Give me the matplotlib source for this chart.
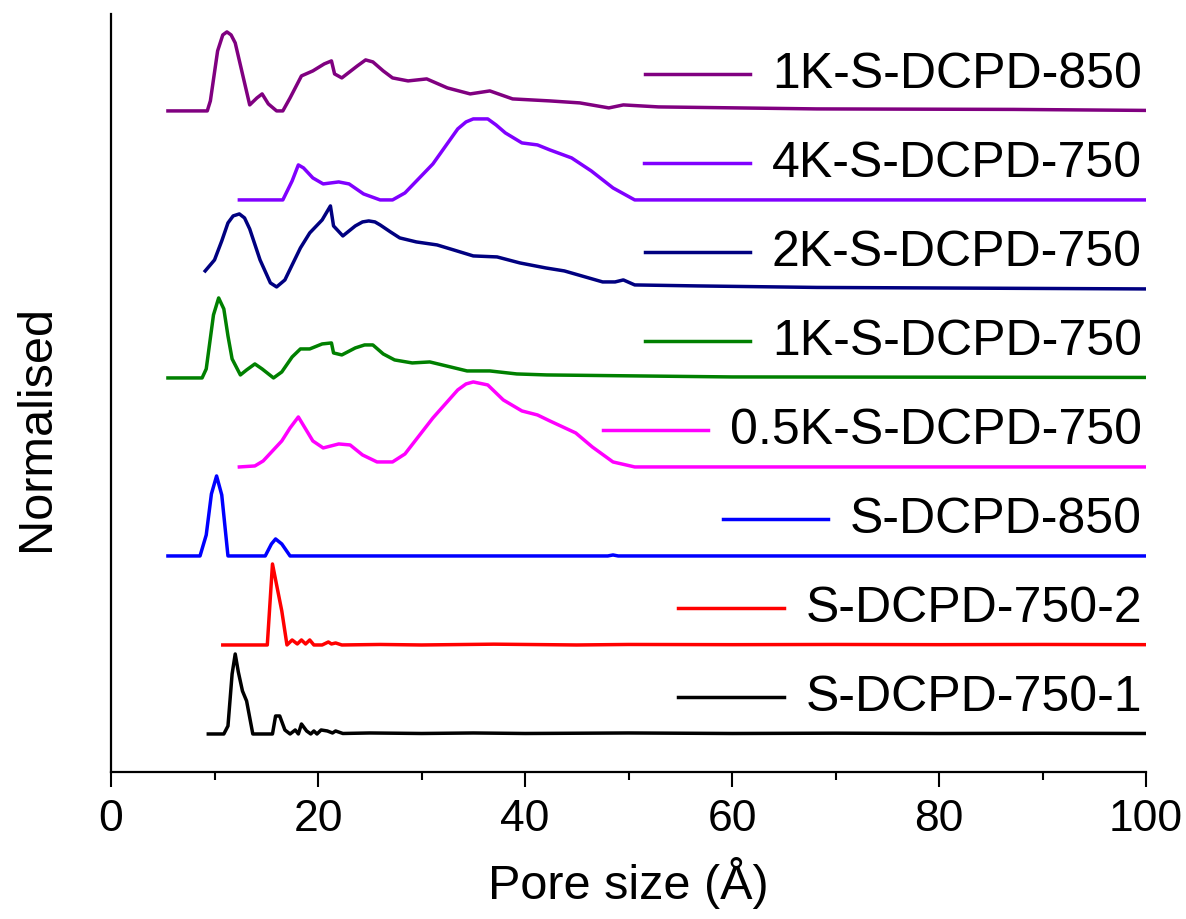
import matplotlib
matplotlib.use("Agg")
import matplotlib.pyplot as plt

plt.rcParams['font.family'] = ['Liberation Sans', 'DejaVu Sans']

# pore size (A) and normalised intensity (arbitrary units) for each sample
x_750_1 = [9.4, 10.9, 11.3, 11.7, 12.0, 12.3, 12.7, 13.1, 13.7, 15.6, 15.9, 16.3, 16.8, 17.3, 17.8, 18.1, 18.4, 18.9,
           19.3, 19.6, 19.9, 20.3, 20.9, 21.4, 21.7, 22.4, 25, 30, 35, 40, 50, 60, 70, 80, 90, 100]
y_750_1 = [0, 0, 8, 60, 80, 62, 43, 33, 0, 0, 18, 18, 4, 0, 4, 0, 10, 3,
           0, 3, 0, 4, 3, 1, 3, 0.5, 1, 0.5, 1, 0.5, 1, 0.5, 0.8, 0.5, 0.7, 0.5]

x_750_2 = [10.8, 15.1, 15.6, 16.0, 16.5, 17.0, 17.5, 18.0, 18.4, 18.8, 19.2, 19.6, 20.4, 21.0, 21.3, 21.7, 22.3,
           26, 30, 37, 40, 45, 50, 60, 70, 80, 90, 100]
y_750_2 = [0, 0, 81, 60, 34, 0, 5, 1, 5, 1, 5, 0, 0, 3, 1, 2, 0,
           0.5, 0, 0.8, 0.5, 0, 0.5, 0.3, 0.5, 0.3, 0.5, 0.3]

x_850 = [5.5, 8.6, 9.2, 9.7, 10.2, 10.7, 11.3, 14.9, 15.5, 15.9, 16.5, 17.3, 48, 48.5, 49, 100]
y_850 = [0, 0, 21, 62, 80, 61, 0, 0, 12, 17, 12, 0, 0, 1, 0, 0]

x_05k = [12.4, 13.9, 14.7, 16.5, 17.3, 18.1, 18.8, 19.5, 20.5, 22.0, 23.1, 24.3, 25.7, 27.2, 28.4, 29.6, 31.1,
         33.5, 34.3, 35.0, 36.4, 37.9, 39.7, 41.2, 42.4, 44.9, 46.5, 48.5, 50.6, 100]
y_05k = [0, 1, 6, 26, 39, 50, 38, 26, 19, 23, 22, 12, 5, 5, 13, 29, 49,
         77, 83, 85, 82, 67, 56, 52, 46, 34, 20, 5, 0, 0]

x_1k750 = [5.5, 8.8, 9.2, 9.9, 10.4, 10.9, 11.3, 11.7, 12.5, 13.1, 13.9, 14.6, 15.7, 16.5, 17.5, 18.3, 19.2,
           20.4, 21.3, 21.5, 22.3, 23.6, 24.5, 25.3, 26.3, 27.4, 29.1, 30.8, 32.8, 34.4, 36.6, 39.2, 42.1,
           51, 60, 100]
y_1k750 = [0, 0, 9, 63, 80, 69, 42, 19, 3, 8, 14, 9, 0, 6, 21, 29, 29,
           34, 35, 25, 23, 30, 33, 33, 24, 18, 15, 16, 11, 7, 7, 4, 3,
           2, 1, 0.5]

x_2k = [9.1, 10.0, 10.7, 11.3, 11.8, 12.4, 12.9, 13.4, 14.4, 15.4, 16.0, 16.8, 17.5, 18.3, 19.2, 20.4, 21.2, 21.5,
        22.4, 23.6, 24.3, 24.9, 25.5, 26.0, 27.0, 27.9, 29.5, 31.5, 33.1, 35.0, 37.3, 39.5, 42.0, 43.8, 47.5,
        48.7, 49.5, 50.6, 56.7, 68.2, 100]
y_2k = [18, 29, 48, 66, 73, 75, 71, 60, 29, 6, 2, 9, 24, 41, 56, 69, 83, 63,
        53, 63, 67, 68, 67, 64, 57, 51, 47, 44, 39, 33, 32, 26, 21, 18, 7,
        7, 9, 4, 3, 1.5, 0]

x_4k = [12.4, 16.6, 17.5, 18.1, 18.6, 19.5, 20.5, 22.0, 23.0, 24.4, 26.0, 27.2, 28.4, 31.1, 33.5, 34.3, 35.0,
        36.4, 37.2, 38.1, 39.7, 41.2, 42.4, 44.5, 46.4, 48.5, 50.6, 100]
y_4k = [0, 0, 19, 35, 32, 22, 16, 18, 16, 6, 0, 0, 7, 36, 71, 78, 81,
        81, 75, 67, 57, 55, 50, 42, 29, 12, 0, 0]

x_1k850 = [5.5, 9.3, 9.6, 10.3, 10.8, 11.2, 11.6, 12.0, 12.7, 13.4, 14.1, 14.6, 15.2, 16.0, 16.6, 17.3, 18.4, 19.5,
           20.6, 21.3, 21.6, 22.3, 23.8, 24.6, 25.3, 26.3, 27.2, 28.7, 30.5, 32.5, 34.7, 36.6, 38.8, 42.4,
           45.3, 48.1, 49.5, 52.9, 68.2, 87.2, 100]
y_1k850 = [0, 0, 10, 60, 76, 79, 76, 68, 37, 6, 13, 17, 7, 0, 0, 13, 35, 40,
           47, 50, 37, 33, 45, 51, 49, 40, 33, 30, 32, 23, 17, 20, 12, 10,
           8, 3, 6, 4, 2, 1.5, 0.5]

series = [
    (x_750_1, y_750_1, "black", "S-DCPD-750-1"),
    (x_750_2, y_750_2, "#ff0000", "S-DCPD-750-2"),
    (x_850, y_850, "#0000ff", "S-DCPD-850"),
    (x_05k, y_05k, "#ff00ff", "0.5K-S-DCPD-750"),
    (x_1k750, y_1k750, "#008000", "1K-S-DCPD-750"),
    (x_2k, y_2k, "#000080", "2K-S-DCPD-750"),
    (x_4k, y_4k, "#8000ff", "4K-S-DCPD-750"),
    (x_1k850, y_1k850, "#800080", "1K-S-DCPD-850"),
]

fig = plt.figure(figsize=(11.86, 9.2), dpi=100)
ax = fig.add_axes([0.0936, 0.1598, 0.8727, 0.824])

step = 89
base = 38
for i, (xs, ys, c, lab) in enumerate(series):
    off = base + i * step
    ax.plot(xs, [v + off for v in ys], color=c, lw=2.5, solid_joinstyle='round')

ax.set_xlim(0, 100)
ax.set_ylim(0, 758)

ax.spines['top'].set_visible(False)
ax.spines['right'].set_visible(False)
ax.spines['left'].set_linewidth(1.6)
ax.spines['bottom'].set_linewidth(1.6)
ax.set_yticks([])
ax.set_xticks(range(0, 101, 20))
ax.set_xticks(range(10, 100, 20), minor=True)
ax.tick_params(axis='x', which='major', direction='out', length=11, width=1.5, labelsize=32, pad=8)
ax.tick_params(axis='x', which='minor', direction='out', length=6, width=1.5)

ax.set_xlabel("Pore size (Å)", fontsize=35, labelpad=12)
ax.set_ylabel("Normalised", fontsize=35)
ax.yaxis.set_label_coords(-0.05, 0.455)

# legend: right-aligned labels with a short line in front of each
labels = []
for i, (xs, ys, c, lab) in enumerate(series):
    off = base + i * step
    t = ax.text(99.6, off + 37, lab, fontsize=36, ha='right', va='center')
    labels.append((t, c, off + 37))

fig.canvas.draw()
r = fig.canvas.get_renderer()
inv = ax.transData.inverted()
for t, c, yl in labels:
    bb = t.get_window_extent(renderer=r)
    x_left = inv.transform((bb.x0, bb.y0))[0]
    ax.plot([x_left - 12.3, x_left - 2.1], [yl, yl], color=c, lw=2.5)

fig.savefig("out.png", dpi=100)
